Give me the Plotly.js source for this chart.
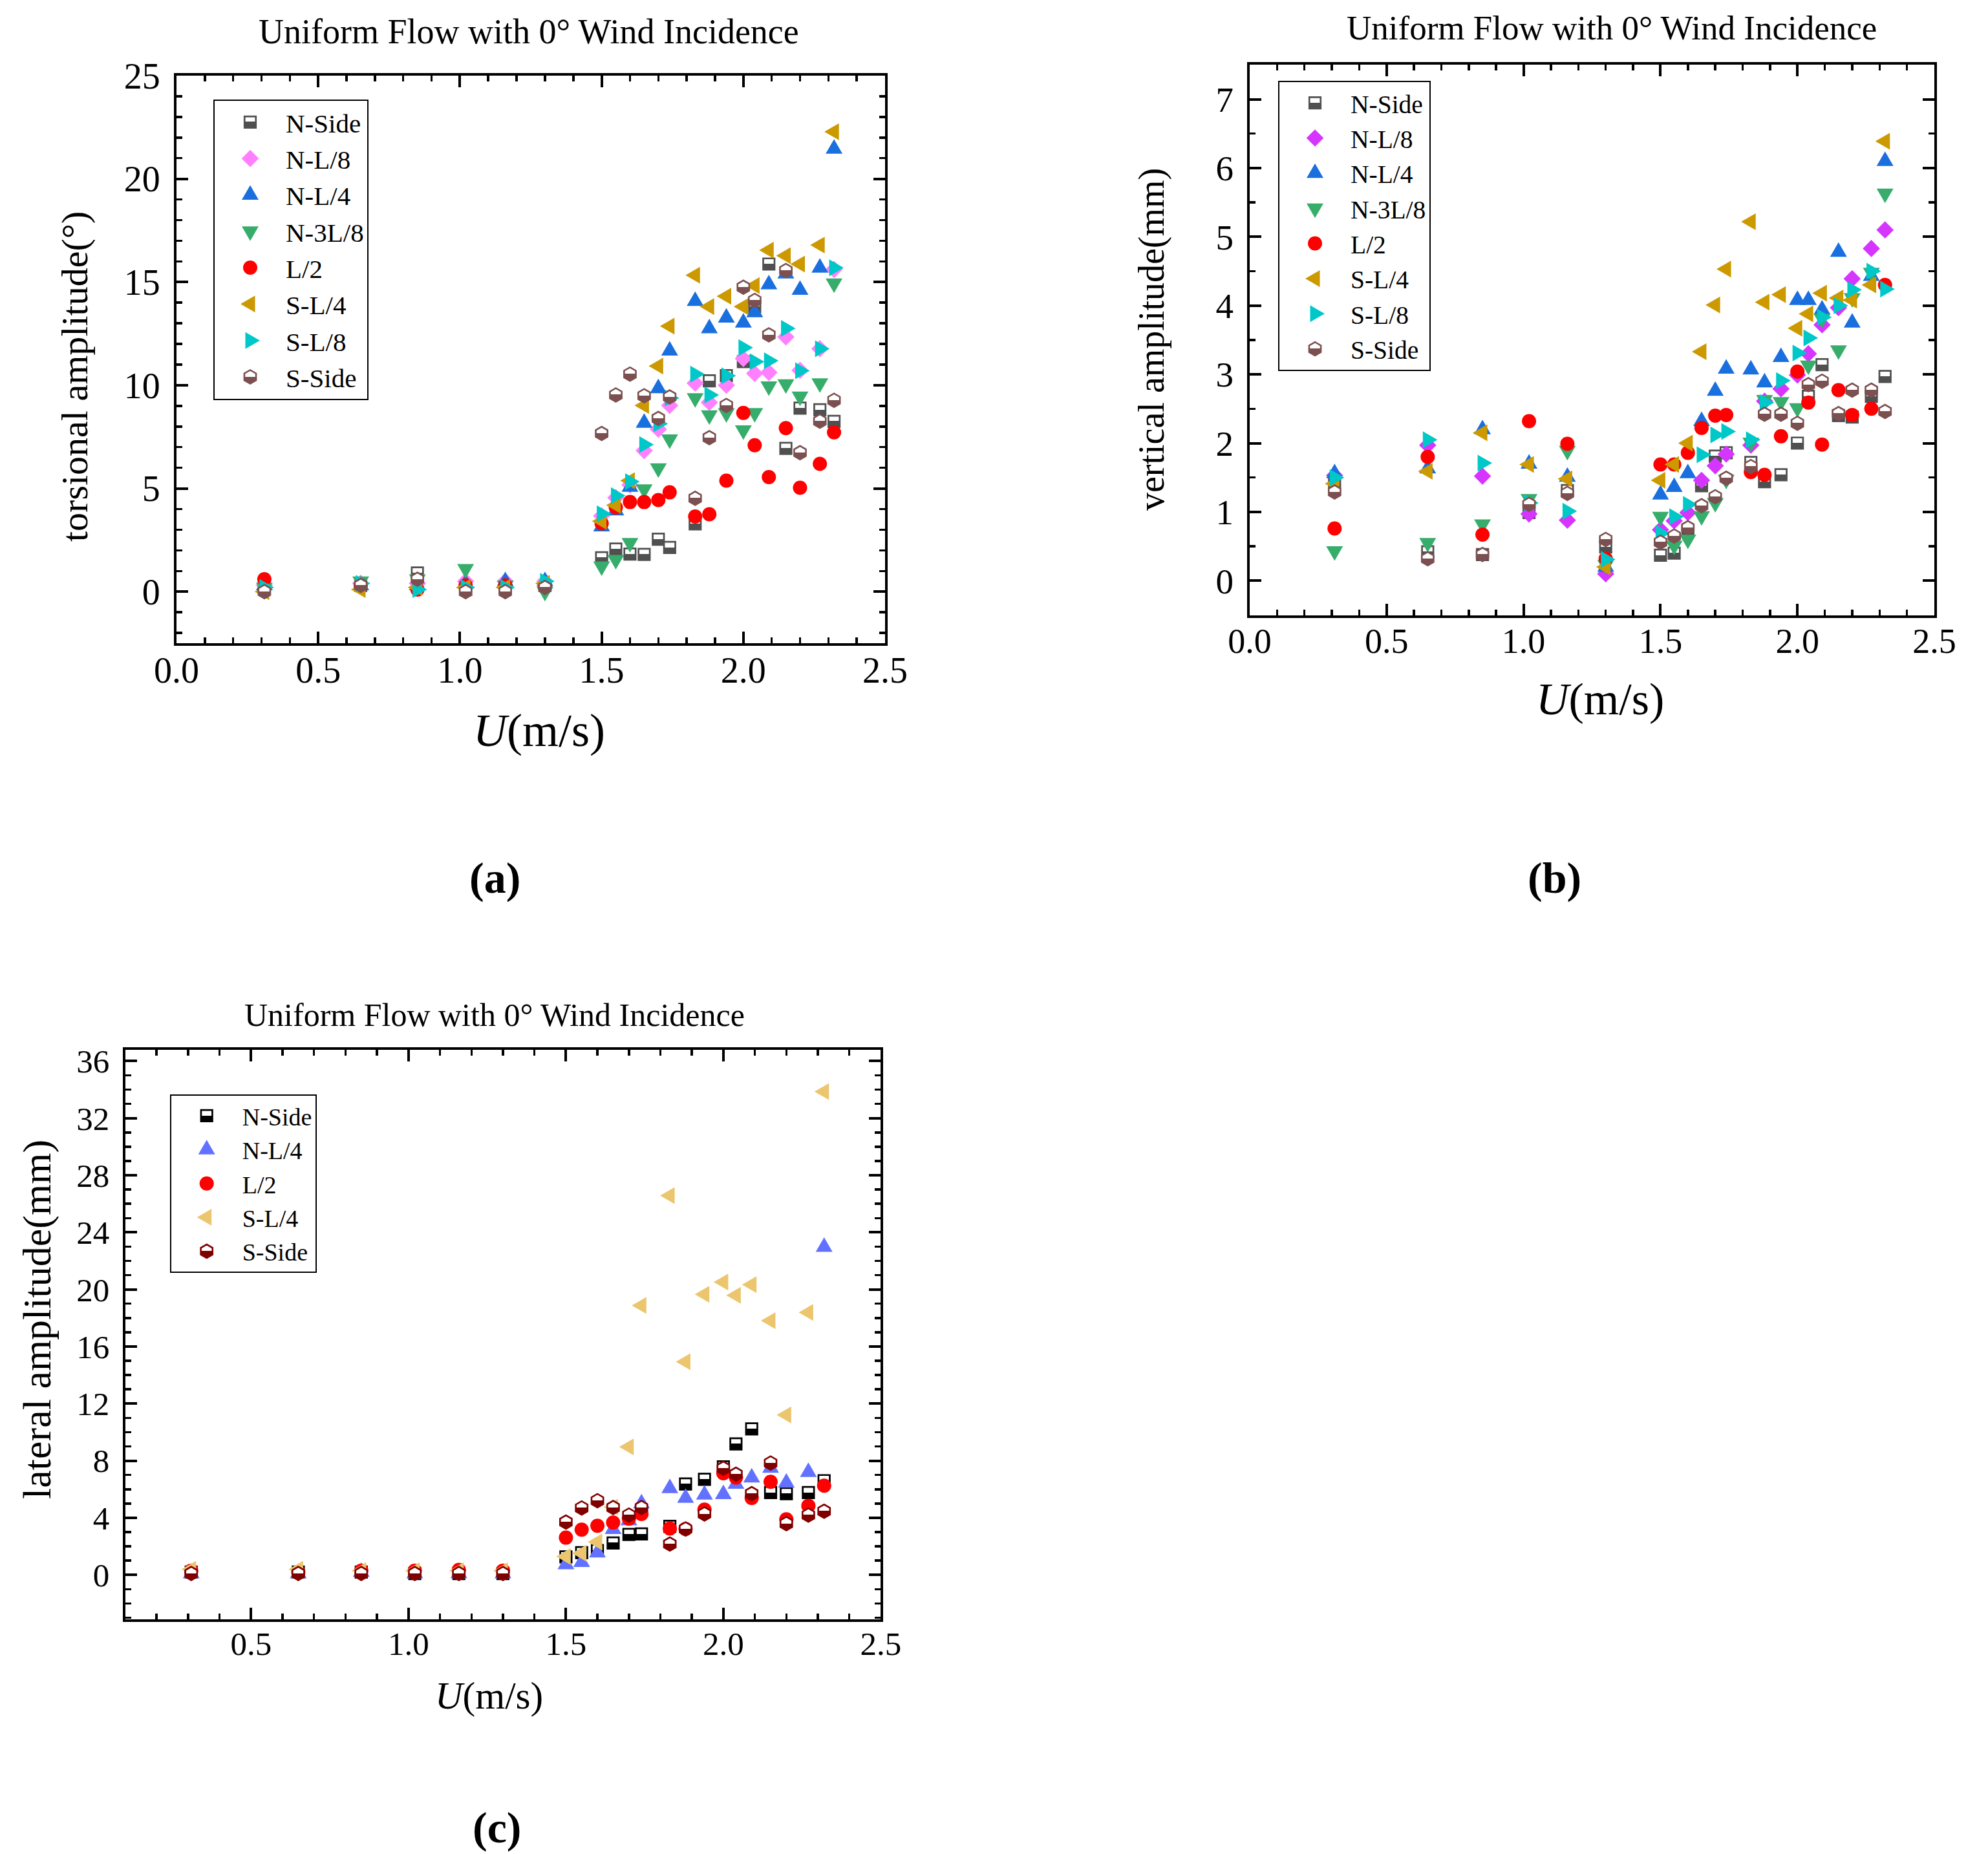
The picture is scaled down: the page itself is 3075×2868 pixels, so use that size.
<!DOCTYPE html>
<html><head><meta charset="utf-8">
<script src="https://cdn.plot.ly/plotly-3.0.1.min.js"></script>
<style>html,body{margin:0;padding:0;background:#fff}</style>
</head><body><div id="chart" style="width:3075px;height:2868px"></div>
<script>
// wind speed U (m/s)
const U = [0.31, 0.65, 0.85, 1.02, 1.16, 1.30, 1.50, 1.55, 1.60, 1.65, 1.70, 1.74, 1.83, 1.88, 1.94, 2.00, 2.04, 2.09, 2.15, 2.20, 2.27, 2.32];

// (a) torsional amplitude (deg)
const torsNSide = [0.2,0.3,0.9,0.1,0.2,0.3, 1.64,2.06,1.82,1.80,2.54,2.14,3.28,10.21,10.46,11.14,13.80,15.87,6.94,8.89,8.81,8.25];
const torsNL8   = [0.3,0.4,0.4,0.5,0.5,0.5, 3.67,4.55,5.17,6.83,7.87,9.02,10.10,9.17,10.00,11.29,10.57,10.62,12.34,10.72,11.77,15.61];
const torsNL4   = [0.3,0.3,0.3,0.4,0.5,0.5, 3.15,3.93,5.07,8.17,9.85,11.67,14.08,12.75,13.27,13.03,13.53,14.88,15.41,14.62,15.69,21.45];
const torsN3L8  = [0.2,0.5,0.6,1.1,0.3,0.0, 1.23,1.54,2.36,4.96,5.98,7.38,9.38,8.55,8.65,7.82,8.66,9.95,10.05,9.46,10.10,14.94];
const torsL2    = [0.6,0.3,0.1,0.3,0.3,0.3, 3.31,4.08,4.34,4.34,4.44,4.81,3.64,3.75,5.38,8.66,7.09,5.55,7.92,5.03,6.19,7.72];
const torsSL4   = [0.0,0.1,0.2,0.2,0.2,0.4, 3.41,4.19,5.38,9.02,10.93,12.86,15.33,13.81,14.31,13.81,14.83,16.54,16.28,15.87,16.79,22.28];
const torsSL8   = [0.2,0.4,0.1,0.2,0.2,0.5, 3.77,4.65,5.33,7.12,8.13,9.38,10.54,9.53,10.46,11.82,11.14,11.19,12.75,10.70,11.77,15.69];
const torsSSide = [0.0,0.3,0.6,0.0,0.0,0.2, 7.66,9.53,10.54,9.49,8.39,9.43,4.52,7.46,9.02,14.75,14.11,12.44,15.56,6.73,8.26,9.27];

// (b) vertical amplitude (mm)
const vertNSide = [1.42,0.42,0.38,0.99,1.31,0.49, 0.37,0.40,0.73,1.38,1.81,1.86,1.72,1.44,1.54,2.00,2.68,3.14,2.40,2.38,2.68,2.97];
const vertNL8   = [1.53,1.97,1.52,0.97,0.88,0.10, 0.74,0.87,0.99,1.46,1.67,1.84,1.97,2.61,2.79,2.99,3.30,3.72,3.97,4.39,4.83,5.10];
const vertNL4   = [1.56,1.63,2.20,1.70,1.51,0.20, 1.25,1.36,1.56,2.32,2.76,3.08,3.07,2.88,3.25,4.08,4.08,3.94,4.78,3.75,4.43,6.10];
const vertN3L8  = [0.43,0.55,0.82,1.19,1.89,0.23, 0.93,0.51,0.60,0.94,1.13,1.47,2.01,2.63,2.60,2.51,3.13,3.81,3.35,4.11,4.48,5.63];
const vertL2    = [0.76,1.80,0.67,2.32,1.99,0.32, 1.69,1.69,1.86,2.22,2.40,2.41,1.58,1.54,2.10,3.04,2.59,1.98,2.77,2.41,2.50,4.30];
const vertSL4   = [1.41,1.59,2.15,1.69,1.48,0.20, 1.46,1.69,2.00,3.33,4.01,4.53,5.22,4.05,4.16,3.67,3.88,4.18,4.11,4.08,4.30,6.39];
const vertSL8   = [1.50,2.05,1.71,1.13,1.01,0.31, 0.69,0.93,1.11,1.83,2.12,2.17,2.05,2.59,2.91,3.31,3.53,3.83,4.00,4.23,4.50,4.24];
const vertSSide = [1.29,0.32,0.38,1.11,1.27,0.60, 0.56,0.65,0.77,1.09,1.22,1.49,1.66,2.42,2.42,2.29,2.85,2.90,2.43,2.77,2.77,2.46];

// (c) lateral amplitude (mm)
const latNSide = [0.2,0.2,0.2,0.1,0.1,0.1, 1.26,1.56,1.71,2.24,2.84,2.87,3.40,6.37,6.70,7.57,9.18,10.23,5.77,5.69,5.77,6.60];
const latNL4   = [0.1,0.1,0.2,0.1,0.1,0.1, 0.74,0.89,1.56,3.20,3.82,5.00,6.07,5.39,5.62,5.65,6.37,6.82,7.50,6.45,7.20,22.97];
const latL2    = [0.3,0.2,0.3,0.3,0.35,0.3, 2.61,3.17,3.44,3.67,3.94,4.27,3.25,3.22,4.57,7.12,6.82,5.39,6.52,3.89,4.84,6.25];
const latSL4   = [0.4,0.4,0.3,0.3,0.3,0.3, 1.29,1.52,2.31,4.75,8.97,18.87,26.57,14.93,19.66,20.52,19.59,20.34,17.81,11.21,18.39,33.86];
const latSSide = [0.1,0.1,0.1,0.1,0.1,0.1, 3.70,4.69,5.20,4.72,4.19,4.72,2.16,3.22,4.27,7.47,7.05,5.69,7.84,3.59,4.19,4.46];

const seriesNames = ['N-Side','N-L/8','N-L/4','N-3L/8','L/2','S-L/4','S-L/8','S-Side'];
const titleText = 'Uniform Flow with 0° Wind Incidence';

const F = 'Liberation Serif';
const W = 3075, H = 2868;
const px = v => v / W;
const py = v => 1 - v / H;

function style(kind, color) {
  switch (kind) {
    case 'half-square': return {symbol:'square', size:17.5, color:'#ffffff', gradient:{type:'vertical', color:color}, line:{color:color, width:2.7}};
    case 'half-hex':    return {symbol:'hexagon', size:21, color:'#ffffff', gradient:{type:'vertical', color:color}, line:{color:color, width:2.6}};
    case 'diamond':     return {symbol:'diamond', size:20.5, color:color, line:{width:0}};
    case 'up':          return {symbol:'triangle-up', size:22.5, color:color, line:{width:0}};
    case 'down':        return {symbol:'triangle-down', size:22.5, color:color, line:{width:0}};
    case 'left':        return {symbol:'triangle-left', size:22.5, color:color, line:{width:0}};
    case 'right':       return {symbol:'triangle-right', size:22.5, color:color, line:{width:0}};
    case 'circle':      return {symbol:'circle', size:22, color:color, line:{width:0}};
  }
}

function tr(y, name, kind, color, xa, ya, leg) {
  return {x: U, y: y, name: name, type:'scatter', mode:'markers', xaxis: xa, yaxis: ya, legend: leg,
          marker: style(kind, color), cliponaxis: false, hoverinfo:'skip'};
}

const traces = [
  tr(torsNSide, seriesNames[0], 'half-square', '#505050', 'x', 'y', 'legend'),
  tr(torsNL8,   seriesNames[1], 'diamond', '#ff80ff', 'x', 'y', 'legend'),
  tr(torsNL4,   seriesNames[2], 'up', '#1a6fdf', 'x', 'y', 'legend'),
  tr(torsN3L8,  seriesNames[3], 'down', '#37ad6b', 'x', 'y', 'legend'),
  tr(torsL2,    seriesNames[4], 'circle', '#ff0000', 'x', 'y', 'legend'),
  tr(torsSL4,   seriesNames[5], 'left', '#cc9900', 'x', 'y', 'legend'),
  tr(torsSL8,   seriesNames[6], 'right', '#00c8c8', 'x', 'y', 'legend'),
  tr(torsSSide, seriesNames[7], 'half-hex', '#7c5050', 'x', 'y', 'legend'),

  tr(vertNSide, seriesNames[0], 'half-square', '#505050', 'x2', 'y2', 'legend2'),
  tr(vertNL8,   seriesNames[1], 'diamond', '#d535ff', 'x2', 'y2', 'legend2'),
  tr(vertNL4,   seriesNames[2], 'up', '#1a6fdf', 'x2', 'y2', 'legend2'),
  tr(vertN3L8,  seriesNames[3], 'down', '#37ad6b', 'x2', 'y2', 'legend2'),
  tr(vertL2,    seriesNames[4], 'circle', '#ff0000', 'x2', 'y2', 'legend2'),
  tr(vertSL4,   seriesNames[5], 'left', '#cc9900', 'x2', 'y2', 'legend2'),
  tr(vertSL8,   seriesNames[6], 'right', '#00c8c8', 'x2', 'y2', 'legend2'),
  tr(vertSSide, seriesNames[7], 'half-hex', '#7c5050', 'x2', 'y2', 'legend2'),

  tr(latNSide, seriesNames[0], 'half-square', '#000000', 'x3', 'y3', 'legend3'),
  tr(latNL4,   seriesNames[2], 'up', '#6272ff', 'x3', 'y3', 'legend3'),
  tr(latL2,    seriesNames[4], 'circle', '#ff0000', 'x3', 'y3', 'legend3'),
  tr(latSL4,   seriesNames[5], 'left', '#ebc66e', 'x3', 'y3', 'legend3'),
  tr(latSSide, seriesNames[7], 'half-hex', '#800000', 'x3', 'y3', 'legend3')
];

function axis(dom, range, dtick, minorD, fsize, anchor, fmt, standoff) {
  const a = {domain: dom, range: range, anchor: anchor,
    showline: true, linewidth: 4, linecolor: '#000', mirror: 'allticks',
    ticks: 'inside', ticklen: 18, tickwidth: 4, tickcolor: '#000',
    dtick: dtick, tickformat: fmt,
    minor: {dtick: minorD, ticks: 'inside', ticklen: 9, tickwidth: 3.5},
    showgrid: false, zeroline: false,
    tickfont: {family: F, size: fsize}};
  if (standoff) a.ticklabelstandoff = standoff;
  return a;
}

function legendBox(x, y, fs) {
  return {x: px(x), y: py(y), xanchor: 'left', yanchor: 'top', bgcolor: '#fff',
    bordercolor: '#000', borderwidth: 2, font: {family: F, size: fs, color: '#000'},
    itemwidth: 100, tracegroupgap: 0};
}

function ann(x, y, text, size, extra) {
  return Object.assign({x: px(x), y: py(y), xref: 'paper', yref: 'paper', text: text, showarrow: false,
    xanchor: 'center', yanchor: 'middle', font: {family: F, size: size, color: '#000'}}, extra || {});
}

const layout = {
  width: W, height: H, margin: {l: 0, r: 0, t: 0, b: 0},
  font: {family: F, color: '#000'},
  paper_bgcolor: '#fff', plot_bgcolor: '#fff', showlegend: true,
  xaxis:  axis([px(273), px(1369)], [0, 2.5], 0.5, 0.1, 56, 'y', '.1f', -10),
  yaxis:  axis([py(995), py(117)], [-2.5, 25], 5, 1, 56, 'x', 'd', 10),
  xaxis2: axis([px(1933), px(2992)], [0, 2.5], 0.5, 0.1, 54, 'y2', '.1f', -10),
  yaxis2: axis([py(951.5), py(100.3)], [-0.5, 7.5], 1, 0.5, 55, 'x2', 'd', 10),
  xaxis3: axis([px(193.5), px(1362.4)], [0.1, 2.5], 0.5, 0.1, 51, 'y3', '.1f', -10),
  yaxis3: axis([py(2504.7), py(1623.7)], [-3.1, 36.8], 4, 1, 51, 'x3', 'd', 10),
  legend:  legendBox(330, 153.7, 41),
  legend2: legendBox(1977, 125, 39.5),
  legend3: legendBox(262.7, 1692.7, 38),
  annotations: [
    ann(818, 49, titleText, 54),
    ann(2493, 43, titleText, 53),
    ann(765, 1570, titleText, 50),
    ann(834, 1130, '<i>U</i>(m/s)', 72),
    ann(2475, 1081, '<i>U</i>(m/s)', 70),
    ann(756, 2623, '<i>U</i>(m/s)', 59),
    ann(115, 583, 'torsional amplitude(°)', 58, {textangle: -90}),
    ann(1781, 525, 'vertical amplitude(mm)', 56, {textangle: -90}),
    ann(57, 2041, 'lateral amplitude(mm)', 62, {textangle: -90}),
    ann(765, 1358, '<b>(a)</b>', 68),
    ann(2404, 1358, '<b>(b)</b>', 68),
    ann(768, 2827, '<b>(c)</b>', 68)
  ]
};

// restyle rendered markers: sharp half fill, equilateral triangles, legend symbol size
function refine(gd) {
  gd.querySelectorAll('linearGradient').forEach(g => {
    const s = g.querySelectorAll('stop');
    if (s.length === 2) { s[0].setAttribute('offset', '52%'); s[1].setAttribute('offset', '52%'); }
  });
  const K = 1.333;
  const upDown = /^M-[\d.]+,-?[\d.]+H[\d.]+L0,-?[\d.]+Z$/;
  const leftRight = /^M-?[\d.]+,-[\d.]+V[\d.]+L-?[\d.]+,0Z$/;
  function triScale(d) {
    if (upDown.test(d)) return [1, K];
    if (leftRight.test(d)) return [K, 1];
    return [1, 1];
  }
  const refW = {};
  gd.querySelectorAll('g.trace.scatter').forEach(g => {
    const cd = g.__data__; if (!cd || !cd[0] || !cd[0].trace) return;
    const p = g.querySelector('path.point'); if (!p) return;
    refW[cd[0].trace.index] = p.getBBox().width;
  });
  gd.querySelectorAll('path.point').forEach(p => {
    const t = triScale(p.getAttribute('d') || '');
    if (t[0] !== 1 || t[1] !== 1) p.setAttribute('transform', (p.getAttribute('transform') || '') + ' scale(' + t[0] + ',' + t[1] + ')');
  });
  gd.querySelectorAll('.legendpoints path.scatterpts').forEach(p => {
    const g = p.closest('g.traces');
    let k = 1;
    try {
      const dd = g.__data__;
      const trace = dd && dd[0] && dd[0].trace;
      const w = p.getBBox().width;
      if (trace && refW[trace.index] && w > 0) k = refW[trace.index] / w;
    } catch (e) {}
    const t = triScale(p.getAttribute('d') || '');
    p.style.vectorEffect = 'non-scaling-stroke';
    p.setAttribute('transform', (p.getAttribute('transform') || '') + ' scale(' + (k * t[0]) + ',' + (k * t[1]) + ')');
  });
}

Plotly.newPlot('chart', traces, layout, {staticPlot: true, displayModeBar: false}).then(refine);
</script>
</body></html>
